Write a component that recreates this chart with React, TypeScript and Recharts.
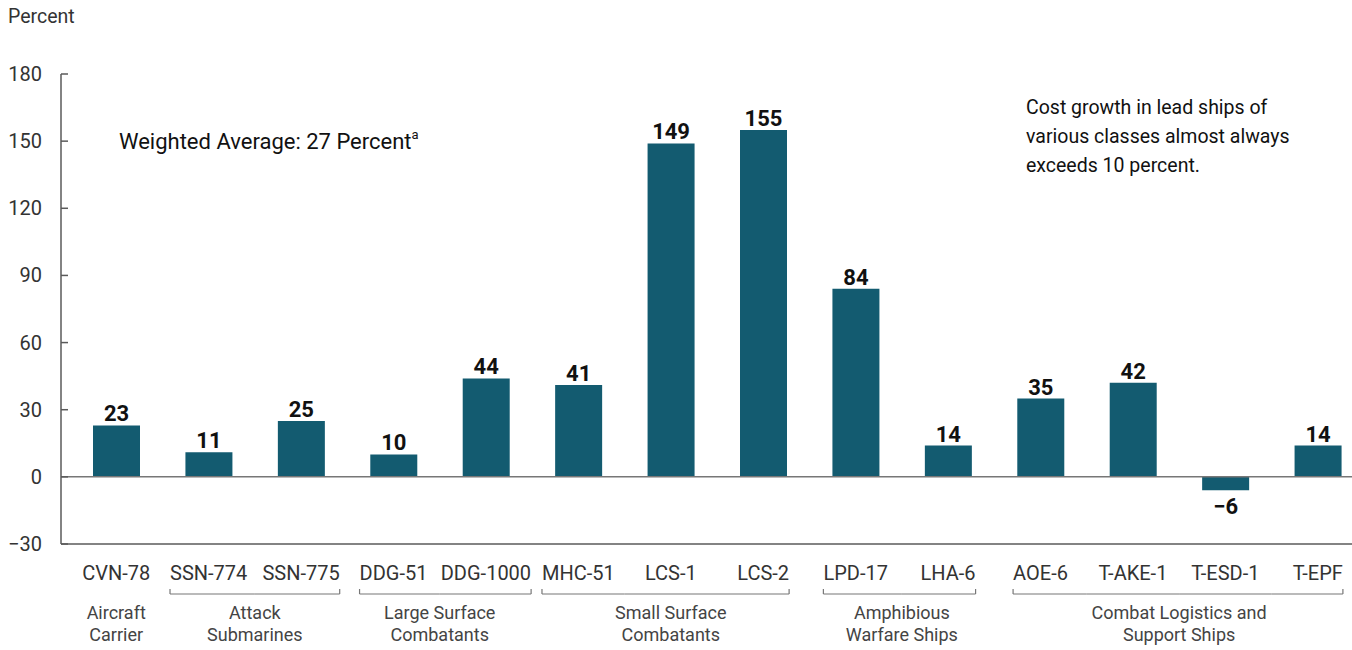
import React from "react";
import { BarChart, Bar, XAxis, YAxis, ReferenceLine, LabelList } from "recharts";

const categories = ["CVN-78", "SSN-774", "SSN-775", "DDG-51", "DDG-1000", "MHC-51", "LCS-1", "LCS-2", "LPD-17", "LHA-6", "AOE-6", "T-AKE-1", "T-ESD-1", "T-EPF"];
const costGrowth = [23, 11, 25, 10, 44, 41, 149, 155, 84, 14, 35, 42, -6, 14];
const yTicks = [-30, 0, 30, 60, 90, 120, 150, 180];
const groupLine1 = ["Aircraft", "Attack", "Large Surface", "Small Surface", "Amphibious", "Combat Logistics and"];
const groupLine2 = ["Carrier", "Submarines", "Combatants", "Combatants", "Warfare Ships", "Support Ships"];
const groupStart = [0, 1, 3, 5, 8, 10];
const groupEnd = [0, 2, 4, 7, 9, 13];

const data = categories.map((c, i) => ({ name: c, value: costGrowth[i] }));

const FONT = "Roboto, 'Liberation Sans', sans-serif";
const CHART_W = 1364;
const CHART_H = 650;
const Y_AXIS_W = 61;
const PAD_L = 9;
const STEP = (CHART_W - Y_AXIS_W - PAD_L) / categories.length;
const BAR_COLOR = "#135B70";
const AXIS_COLOR = "#5a5a5a";

let ctx: CanvasRenderingContext2D | null = null;
function textWidth(s: string, size: number) {
  if (!ctx) {
    const c = document.createElement("canvas");
    ctx = c.getContext("2d");
  }
  if (!ctx) return s.length * size * 0.52;
  ctx.font = `${size}px Roboto`;
  return ctx.measureText(s).width;
}

const fmt = (v: number) => (v < 0 ? "\u2212" + Math.abs(v) : String(v));

const YTick = (props: any) => {
  const { x, y, payload } = props;
  return (
    <g>
      <line x1={x} x2={x + 7} y1={y} y2={y} stroke={AXIS_COLOR} strokeWidth={1.5} />
      <text x={x - 19} y={y + 7} textAnchor="end" fontSize={20} fill="#333" fontFamily={FONT}>
        {fmt(payload.value)}
      </text>
    </g>
  );
};

const XTick = (props: any) => {
  const { x, y, payload } = props;
  const i = payload.index ?? categories.indexOf(payload.value);
  const g = groupStart.findIndex((s, k) => i >= s && i <= groupEnd[k]);
  const label = String(payload.value);
  const w = textWidth(label, 20);
  const by = y + 50;
  const parts: React.ReactNode[] = [];
  if (g >= 0) {
    const s = groupStart[g];
    const e = groupEnd[g];
    if (e > s) {
      let x1 = x - STEP / 2;
      let x2 = x + STEP / 2;
      if (i === s) {
        x1 = x - w / 2;
        parts.push(<line key="tl" x1={x1} x2={x1} y1={by} y2={by - 5} stroke="#777" strokeWidth={1.2} />);
      }
      if (i === e) {
        x2 = x + w / 2;
        parts.push(<line key="tr" x1={x2} x2={x2} y1={by} y2={by - 5} stroke="#777" strokeWidth={1.2} />);
      }
      parts.push(<line key="h" x1={x1} x2={x2} y1={by} y2={by} stroke="#777" strokeWidth={1.2} />);
    }
    if (i === s) {
      const cx = x + ((e - s) * STEP) / 2;
      parts.push(
        <text key="g1" x={cx} y={y + 75} textAnchor="middle" fontSize={18} fill="#444" fontFamily={FONT}>
          {groupLine1[g]}
        </text>
      );
      parts.push(
        <text key="g2" x={cx} y={y + 97} textAnchor="middle" fontSize={18} fill="#444" fontFamily={FONT}>
          {groupLine2[g]}
        </text>
      );
    }
  }
  return (
    <g>
      <text x={x} y={y + 36} textAnchor="middle" fontSize={20} fill="#333" fontFamily={FONT}>
        {label}
      </text>
      {parts}
    </g>
  );
};

const ValueLabel = (props: any) => {
  const { x, y, width, height, value } = props;
  const top = Math.min(y, y + height);
  const bot = Math.max(y, y + height);
  const cx = x + width / 2;
  const ty = value < 0 ? bot + 24 : top - 4;
  return (
    <text x={cx} y={ty} textAnchor="middle" fontSize={22} fontWeight={700} fill="#111" fontFamily={FONT}>
      {fmt(value)}
    </text>
  );
};

export default function App() {
  return (
    <div style={{ position: "absolute", left: 0, top: 0, width: 1352, height: 650, overflow: "hidden", background: "#fff", fontFamily: FONT }}>
      <BarChart width={CHART_W} height={CHART_H} data={data} margin={{ top: 74, right: 0, bottom: 0, left: 0 }}>
        <YAxis
          type="number"
          domain={[-30, 180]}
          ticks={yTicks}
          width={Y_AXIS_W}
          tickSize={0}
          tickMargin={0}
          tickLine={false}
          axisLine={{ stroke: AXIS_COLOR, strokeWidth: 1.5 }}
          tick={<YTick />}
          interval={0}
        />
        <XAxis
          dataKey="name"
          height={106}
          interval={0}
          tickSize={0}
          tickMargin={0}
          tickLine={false}
          axisLine={{ stroke: AXIS_COLOR, strokeWidth: 1.5 }}
          padding={{ left: PAD_L, right: 0 }}
          tick={<XTick />}
        />
        <ReferenceLine y={0} stroke="#777" strokeWidth={1.5} />
        <Bar dataKey="value" fill={BAR_COLOR} barSize={47} isAnimationActive={false}>
          <LabelList dataKey="value" content={<ValueLabel />} />
        </Bar>
      </BarChart>
      <svg width={1352} height={650} style={{ position: "absolute", left: 0, top: 0, pointerEvents: "none" }}>
        <text x={8} y={23} fontSize={19.5} fill="#333" fontFamily={FONT}>Percent</text>
        <text x={119} y={149} fontSize={22} fill="#111" fontFamily={FONT}>
          Weighted Average: 27 Percent
          <tspan fontSize={13} dy={-10}>a</tspan>
        </text>
        <text x={1026} y={114} fontSize={19.5} fill="#111" fontFamily={FONT}>Cost growth in lead ships of</text>
        <text x={1026} y={143} fontSize={19.5} fill="#111" fontFamily={FONT}>various classes almost always</text>
        <text x={1026} y={172} fontSize={19.5} fill="#111" fontFamily={FONT}>exceeds 10 percent.</text>
      </svg>
    </div>
  );
}
